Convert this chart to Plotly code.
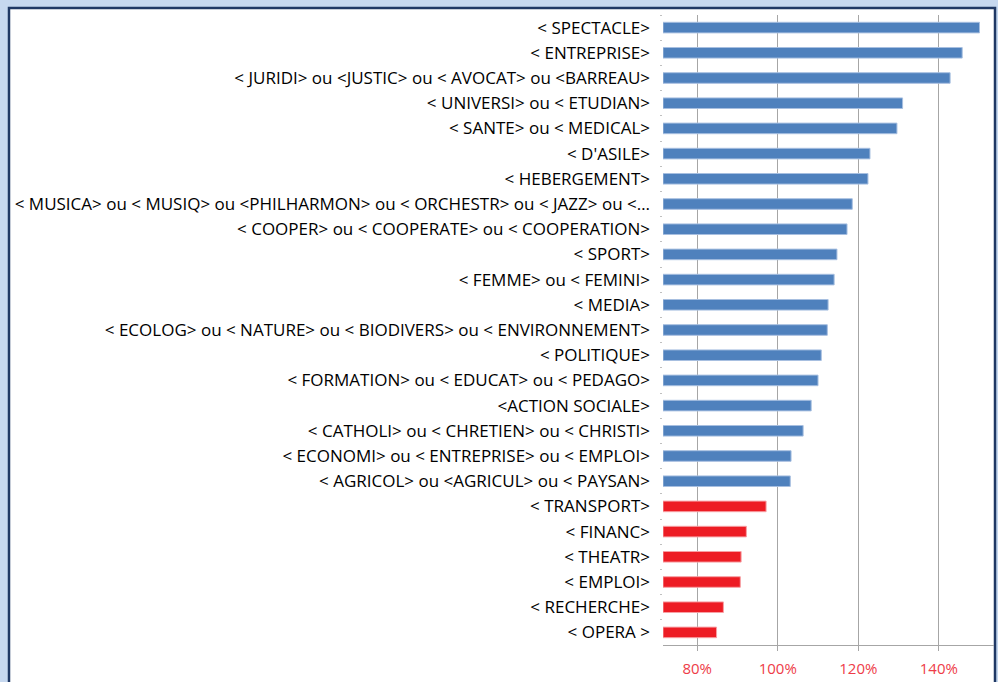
import plotly.graph_objects as go

categories = [
    "< SPECTACLE>",
    "< ENTREPRISE>",
    "< JURIDI> ou <JUSTIC> ou < AVOCAT> ou <BARREAU>",
    "< UNIVERSI> ou < ETUDIAN>",
    "< SANTE> ou < MEDICAL>",
    "< D'ASILE>",
    "< HEBERGEMENT>",
    "< MUSICA> ou < MUSIQ> ou <PHILHARMON> ou < ORCHESTR> ou < JAZZ> ou <…",
    "< COOPER> ou < COOPERATE> ou < COOPERATION>",
    "< SPORT>",
    "< FEMME> ou < FEMINI>",
    "< MEDIA>",
    "< ECOLOG> ou < NATURE> ou < BIODIVERS> ou < ENVIRONNEMENT>",
    "< POLITIQUE>",
    "< FORMATION> ou < EDUCAT> ou < PEDAGO>",
    "<ACTION SOCIALE>",
    "< CATHOLI> ou < CHRETIEN> ou < CHRISTI>",
    "< ECONOMI> ou < ENTREPRISE> ou < EMPLOI>",
    "< AGRICOL> ou <AGRICUL> ou < PAYSAN>",
    "< TRANSPORT>",
    "< FINANC>",
    "< THEATR>",
    "< EMPLOI>",
    "< RECHERCHE>",
    "< OPERA >",
]
values = [150.1, 145.8, 142.8, 131.0, 129.6, 122.9, 122.4, 118.5, 117.2, 114.7,
          114.0, 112.5, 112.3, 110.8, 110.0, 108.3, 106.3, 103.3, 103.1,
          97.1, 92.2, 90.9, 90.7, 86.5, 84.8]
tick_vals = [80, 100, 120, 140]
tick_text = ["80%", "100%", "120%", "140%"]
x_min = 71.5
x_max = 153.7

bar_colors = ["#4F81BD" if v >= 100 else "#ED1C24" for v in values]
edge_colors = ["#A7BFE0" if v >= 100 else "#F7A0A4" for v in values]

fig = go.Figure()
fig.add_trace(go.Bar(
    y=categories,
    x=[v - x_min for v in values],
    base=x_min,
    orientation="h",
    marker=dict(color=bar_colors, line=dict(color=edge_colors, width=1)),
    width=0.42,
    hoverinfo="skip",
))

W, H = 998, 682
L, R, T, B = 663, 4, 15, 35
pw = W - L - R
ph = H - T - B

FONT = "Open Sans, Lato, sans-serif"

fig.update_layout(
    width=W, height=H,
    margin=dict(l=L, r=R, t=T, b=B),
    paper_bgcolor="#C6D8EF",
    plot_bgcolor="rgba(0,0,0,0)",
    showlegend=False,
    font=dict(family=FONT, size=17, color="#000000"),
    shapes=[
        dict(type="rect", xref="paper", yref="paper", layer="below",
             x0=(9 - L) / pw, x1=(995 - L) / pw,
             y0=-0.2, y1=(H - B - 8) / ph,
             fillcolor="#FFFFFF", line=dict(color="#1F3864", width=2.5)),
    ],
)
fig.update_xaxes(
    range=[x_min, x_max],
    tickvals=tick_vals, ticktext=tick_text,
    tickfont=dict(color="#EE3C48", size=15, family=FONT),
    showgrid=True, gridcolor="#A6A6A6", gridwidth=1,
    showline=True, linecolor="#A6A6A6", linewidth=1,
    ticks="outside", ticklen=5, tickcolor="#A6A6A6",
    ticklabelstandoff=5,
    zeroline=False, fixedrange=True,
)
fig.update_yaxes(
    autorange=False, range=[len(categories) - 0.5, -0.5],
    type="category",
    showgrid=False, showline=False,
    ticks="outside", ticklen=2, tickcolor="#C0C0C0", tickson="boundaries",
    ticklabelstandoff=12,
    automargin=False, fixedrange=True,
)

fig.write_html(
    "out.html",
    config={"displayModeBar": False, "staticPlot": True},
    post_script="document.body.style.margin='0';document.body.style.overflow='hidden';",
)
